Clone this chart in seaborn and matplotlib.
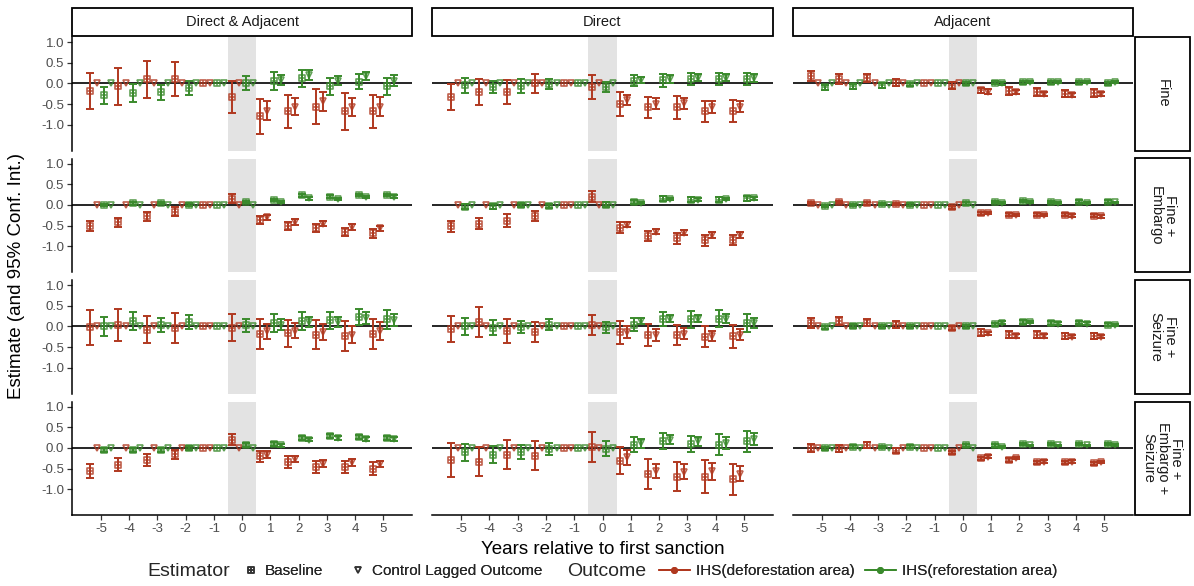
import numpy as np
import pandas as pd
import matplotlib
matplotlib.use("Agg")
import matplotlib.pyplot as plt
import seaborn as sns
from matplotlib.path import Path
from matplotlib.patches import Rectangle
from matplotlib.lines import Line2D

# ---------------- data ----------------
years = [-5, -4, -3, -2, -1, 0, 1, 2, 3, 4, 5]
samples = ["Direct & Adjacent", "Direct", "Adjacent"]
treatments = ["Fine", "Fine +\nEmbargo", "Fine +\nSeizure", "Fine +\nEmbargo +\nSeizure"]
estimators = ["Baseline", "Control Lagged Outcome"]
outcomes = ["IHS(deforestation area)", "IHS(reforestation area)"]
y_ticks = [-1.0, -0.5, 0.0, 0.5, 1.0]
Z6 = [0, 0, 0, 0, 0, 0]

# each panel: estimate and 95% CI half-width for
# def_base / def_lag / ref_base / ref_lag (years -5..5)
da_fine = dict(
    def_base=[-0.19, -0.07, 0.10, 0.11, 0, -0.33, -0.80, -0.68, -0.56, -0.68, -0.68],
    def_base_ci=[0.44, 0.45, 0.45, 0.41, 0, 0.38, 0.43, 0.40, 0.42, 0.44, 0.39],
    def_lag=Z6 + [-0.66, -0.56, -0.43, -0.58, -0.56],
    def_lag_ci=Z6 + [0.23, 0.20, 0.23, 0.22, 0.22],
    ref_base=[-0.29, -0.23, -0.21, -0.11, 0, 0.02, 0.06, 0.12, -0.07, 0.04, -0.07],
    ref_base_ci=[0.21, 0.22, 0.18, 0.17, 0, 0.17, 0.21, 0.21, 0.20, 0.18, 0.21],
    ref_lag=Z6 + [0.08, 0.20, 0.06, 0.18, 0.07],
    ref_lag_ci=Z6 + [0.12, 0.12, 0.11, 0.09, 0.14],
)
d_fine = dict(
    def_base=[-0.33, -0.21, -0.21, 0.00, 0, -0.08, -0.49, -0.58, -0.58, -0.68, -0.66],
    def_base_ci=[0.31, 0.32, 0.29, 0.23, 0, 0.29, 0.29, 0.26, 0.27, 0.26, 0.27],
    def_lag=Z6 + [-0.41, -0.49, -0.48, -0.57, -0.56],
    def_lag_ci=Z6 + [0.12, 0.13, 0.13, 0.14, 0.13],
    ref_base=[-0.04, -0.08, -0.07, -0.02, 0, -0.08, 0.07, 0.08, 0.11, 0.11, 0.10],
    ref_base_ci=[0.18, 0.14, 0.17, 0.12, 0, 0.12, 0.14, 0.16, 0.14, 0.15, 0.15],
    ref_lag=Z6 + [0.08, 0.11, 0.14, 0.14, 0.14],
    ref_lag_ci=Z6 + [0.07, 0.10, 0.08, 0.08, 0.10],
)
a_fine = dict(
    def_base=[0.18, 0.11, 0.14, 0.02, 0, -0.05, -0.17, -0.19, -0.21, -0.25, -0.23],
    def_base_ci=[0.11, 0.12, 0.10, 0.08, 0, 0.09, 0.07, 0.10, 0.09, 0.09, 0.10],
    def_lag=Z6 + [-0.20, -0.21, -0.25, -0.27, -0.25],
    def_lag_ci=Z6 + [0.06, 0.05, 0.05, 0.05, 0.05],
    ref_base=[-0.09, -0.07, -0.05, -0.02, 0, 0.00, 0.02, 0.03, 0.03, 0.03, 0.00],
    ref_base_ci=[0.06, 0.06, 0.05, 0.04, 0, 0.04, 0.04, 0.04, 0.04, 0.04, 0.04],
    ref_lag=Z6 + [0.00, 0.03, 0.03, 0.03, 0.03],
    ref_lag_ci=Z6 + [0.03, 0.03, 0.03, 0.03, 0.03],
)
da_fe = dict(
    def_base=[-0.52, -0.42, -0.28, -0.16, 0, 0.15, -0.37, -0.51, -0.56, -0.65, -0.69],
    def_base_ci=[0.12, 0.11, 0.12, 0.10, 0, 0.11, 0.09, 0.10, 0.10, 0.10, 0.10],
    def_lag=Z6 + [-0.30, -0.41, -0.45, -0.53, -0.57],
    def_lag_ci=Z6 + [0.06, 0.07, 0.07, 0.07, 0.06],
    ref_base=[0.00, 0.04, 0.05, 0.01, 0, 0.07, 0.12, 0.23, 0.20, 0.24, 0.24],
    ref_base_ci=[0.03, 0.03, 0.03, 0.03, 0, 0.03, 0.03, 0.03, 0.03, 0.03, 0.03],
    ref_lag=Z6 + [0.07, 0.16, 0.15, 0.19, 0.20],
    ref_lag_ci=Z6 + [0.03, 0.03, 0.03, 0.03, 0.03],
)
d_fe = dict(
    def_base=[-0.52, -0.45, -0.38, -0.26, 0, 0.20, -0.55, -0.75, -0.81, -0.86, -0.85],
    def_base_ci=[0.13, 0.14, 0.15, 0.12, 0, 0.13, 0.13, 0.13, 0.13, 0.13, 0.13],
    def_lag=Z6 + [-0.48, -0.65, -0.67, -0.73, -0.73],
    def_lag_ci=Z6 + [0.06, 0.06, 0.06, 0.07, 0.07],
    ref_base=[-0.04, -0.03, 0.00, -0.02, 0, 0.01, 0.07, 0.15, 0.13, 0.13, 0.16],
    ref_base_ci=[0.07, 0.06, 0.05, 0.05, 0, 0.05, 0.05, 0.06, 0.06, 0.06, 0.06],
    ref_lag=Z6 + [0.05, 0.15, 0.13, 0.14, 0.16],
    ref_lag_ci=Z6 + [0.03, 0.03, 0.03, 0.03, 0.03],
)
a_fe = dict(
    def_base=[0.05, 0.07, 0.04, 0.02, 0, -0.06, -0.20, -0.24, -0.24, -0.24, -0.26],
    def_base_ci=[0.03, 0.03, 0.03, 0.03, 0, 0.04, 0.04, 0.04, 0.04, 0.04, 0.04],
    def_lag=Z6 + [-0.20, -0.24, -0.24, -0.26, -0.28],
    def_lag_ci=Z6 + [0.03, 0.03, 0.03, 0.03, 0.03],
    ref_base=[-0.03, 0.00, 0.02, 0.01, 0, 0.04, 0.07, 0.09, 0.07, 0.08, 0.08],
    ref_base_ci=[0.03, 0.03, 0.03, 0.03, 0, 0.03, 0.03, 0.03, 0.03, 0.03, 0.03],
    ref_lag=Z6 + [0.04, 0.07, 0.05, 0.05, 0.06],
    ref_lag_ci=Z6 + [0.02, 0.02, 0.02, 0.02, 0.02],
)
da_fs = dict(
    def_base=[-0.02, 0.03, -0.08, -0.03, 0, -0.03, -0.18, -0.17, -0.20, -0.24, -0.18],
    def_base_ci=[0.43, 0.39, 0.33, 0.36, 0, 0.32, 0.36, 0.32, 0.35, 0.36, 0.37],
    def_lag=Z6 + [-0.12, -0.10, -0.14, -0.20, -0.12],
    def_lag_ci=Z6 + [0.19, 0.19, 0.20, 0.20, 0.22],
    ref_base=[0.00, 0.13, 0.04, 0.11, 0, 0.03, 0.08, 0.13, 0.15, 0.23, 0.17],
    ref_base_ci=[0.22, 0.22, 0.17, 0.17, 0, 0.16, 0.22, 0.21, 0.21, 0.20, 0.24],
    ref_lag=Z6 + [0.04, 0.11, 0.11, 0.21, 0.15],
    ref_lag_ci=Z6 + [0.13, 0.13, 0.13, 0.14, 0.15],
)
d_fs = dict(
    def_base=[-0.06, 0.11, -0.10, -0.13, 0, 0.03, -0.14, -0.21, -0.21, -0.25, -0.24],
    def_base_ci=[0.32, 0.37, 0.29, 0.24, 0, 0.24, 0.28, 0.27, 0.25, 0.25, 0.28],
    def_lag=Z6 + [-0.14, -0.21, -0.18, -0.23, -0.20],
    def_lag_ci=Z6 + [0.14, 0.14, 0.13, 0.13, 0.13],
    ref_base=[0.00, -0.03, -0.02, 0.04, 0, -0.02, 0.04, 0.17, 0.17, 0.19, 0.09],
    ref_base_ci=[0.20, 0.18, 0.15, 0.13, 0, 0.13, 0.16, 0.17, 0.20, 0.20, 0.22],
    ref_lag=Z6 + [0.13, 0.19, 0.19, 0.19, 0.08],
    ref_lag_ci=Z6 + [0.08, 0.09, 0.09, 0.11, 0.12],
)
a_fs = dict(
    def_base=[0.08, 0.13, 0.09, 0.04, 0, -0.04, -0.14, -0.20, -0.20, -0.23, -0.23],
    def_base_ci=[0.12, 0.10, 0.09, 0.08, 0, 0.05, 0.08, 0.09, 0.08, 0.08, 0.08],
    def_lag=Z6 + [-0.17, -0.23, -0.23, -0.25, -0.25],
    def_lag_ci=Z6 + [0.04, 0.04, 0.04, 0.04, 0.04],
    ref_base=[-0.02, 0.01, 0.00, 0.00, 0, 0.00, 0.05, 0.11, 0.08, 0.09, 0.04],
    ref_base_ci=[0.04, 0.04, 0.04, 0.04, 0, 0.04, 0.04, 0.04, 0.04, 0.04, 0.04],
    ref_lag=Z6 + [0.09, 0.11, 0.07, 0.07, 0.03],
    ref_lag_ci=Z6 + [0.03, 0.03, 0.03, 0.03, 0.03],
)
da_fes = dict(
    def_base=[-0.56, -0.41, -0.29, -0.15, 0, 0.20, -0.20, -0.34, -0.46, -0.46, -0.50],
    def_base_ci=[0.17, 0.16, 0.15, 0.11, 0, 0.13, 0.13, 0.14, 0.15, 0.15, 0.15],
    def_lag=Z6 + [-0.16, -0.27, -0.38, -0.35, -0.39],
    def_lag_ci=Z6 + [0.08, 0.08, 0.08, 0.09, 0.08],
    ref_base=[-0.05, -0.04, -0.05, 0.00, 0, 0.08, 0.10, 0.25, 0.28, 0.26, 0.24],
    ref_base_ci=[0.05, 0.05, 0.05, 0.05, 0, 0.05, 0.05, 0.05, 0.05, 0.05, 0.05],
    ref_lag=Z6 + [0.06, 0.20, 0.24, 0.22, 0.22],
    ref_lag_ci=Z6 + [0.04, 0.04, 0.04, 0.04, 0.04],
)
d_fes = dict(
    def_base=[-0.30, -0.33, -0.16, -0.19, 0, 0.02, -0.31, -0.64, -0.70, -0.70, -0.76],
    def_base_ci=[0.41, 0.35, 0.36, 0.35, 0, 0.36, 0.33, 0.36, 0.35, 0.40, 0.38],
    def_lag=Z6 + [-0.23, -0.55, -0.58, -0.57, -0.62],
    def_lag_ci=Z6 + [0.18, 0.17, 0.18, 0.20, 0.19],
    ref_base=[-0.11, -0.16, -0.11, -0.02, 0, -0.02, 0.08, 0.16, 0.10, 0.08, 0.16],
    ref_base_ci=[0.21, 0.20, 0.17, 0.15, 0, 0.18, 0.19, 0.19, 0.20, 0.26, 0.26],
    ref_lag=Z6 + [0.11, 0.20, 0.16, 0.12, 0.22],
    ref_lag_ci=Z6 + [0.10, 0.11, 0.11, 0.14, 0.14],
)
a_fes = dict(
    def_base=[0.00, -0.02, 0.07, -0.07, 0, -0.11, -0.25, -0.29, -0.35, -0.35, -0.37],
    def_base_ci=[0.09, 0.08, 0.08, 0.06, 0, 0.04, 0.04, 0.04, 0.04, 0.04, 0.04],
    def_lag=Z6 + [-0.21, -0.25, -0.33, -0.33, -0.34],
    def_lag_ci=Z6 + [0.03, 0.03, 0.03, 0.03, 0.03],
    ref_base=[-0.01, 0.03, 0.02, 0.03, 0, 0.06, 0.06, 0.10, 0.10, 0.10, 0.10],
    ref_base_ci=[0.03, 0.03, 0.03, 0.03, 0, 0.03, 0.03, 0.03, 0.03, 0.03, 0.03],
    ref_lag=Z6 + [0.02, 0.06, 0.06, 0.06, 0.07],
    ref_lag_ci=Z6 + [0.02, 0.02, 0.02, 0.02, 0.02],
)

panels = {
    (treatments[0], samples[0]): da_fine, (treatments[0], samples[1]): d_fine, (treatments[0], samples[2]): a_fine,
    (treatments[1], samples[0]): da_fe, (treatments[1], samples[1]): d_fe, (treatments[1], samples[2]): a_fe,
    (treatments[2], samples[0]): da_fs, (treatments[2], samples[1]): d_fs, (treatments[2], samples[2]): a_fs,
    (treatments[3], samples[0]): da_fes, (treatments[3], samples[1]): d_fes, (treatments[3], samples[2]): a_fes,
}
series_keys = {
    (outcomes[0], estimators[0]): "def_base",
    (outcomes[0], estimators[1]): "def_lag",
    (outcomes[1], estimators[0]): "ref_base",
    (outcomes[1], estimators[1]): "ref_lag",
}

rows = []
for (tr, sa), p in panels.items():
    for (oc, es), key in series_keys.items():
        for yr, e, c in zip(years, p[key], p[key + "_ci"]):
            rows.append(dict(treatment=tr, sample=sa, outcome=oc, estimator=es,
                             year=yr, est=e, ci=c))
df = pd.DataFrame(rows)

# ---------------- style ----------------
RED = "#B0381F"
GREEN = "#3A8A2C"
pal = {outcomes[0]: RED, outcomes[1]: GREEN}
dodge = {(outcomes[0], estimators[0]): -0.375, (outcomes[0], estimators[1]): -0.125,
         (outcomes[1], estimators[0]): 0.125, (outcomes[1], estimators[1]): 0.375}

sq_plus = Path([(-1, -1), (1, -1), (1, 1), (-1, 1), (-1, -1), (0, -1), (0, 1), (-1, 0), (1, 0)],
               [Path.MOVETO, Path.LINETO, Path.LINETO, Path.LINETO, Path.CLOSEPOLY,
                Path.MOVETO, Path.LINETO, Path.MOVETO, Path.LINETO])
mk = {estimators[0]: sq_plus, estimators[1]: "v"}
mk_size = {estimators[0]: 4.6, estimators[1]: 4.6}

sns.set_theme(style="white")
plt.rcParams["font.family"] = ["Liberation Sans", "DejaVu Sans"]
plt.rcParams["axes.unicode_minus"] = False

W, H = 1194, 586


def draw(data, color=None, **kw):
    ax = plt.gca()
    ax.axvspan(-0.5, 0.5, color="#E3E3E3", lw=0, zorder=0)
    ax.axhline(0, color="black", lw=1.2, zorder=1)
    for (oc, es), sub in data.groupby(["outcome", "estimator"], sort=False):
        c = pal[oc]
        x = sub["year"].to_numpy() + dodge[(oc, es)]
        y = sub["est"].to_numpy()
        ci = sub["ci"].to_numpy()
        m = ci > 0
        if m.any():
            ax.errorbar(x[m], y[m], yerr=ci[m], fmt="none", ecolor=c,
                        elinewidth=1.4, capsize=2.6, capthick=1.4, zorder=2)
        ax.plot(x, y, ls="none", marker=mk[es], ms=mk_size[es], mfc="none",
                mec=c, mew=1.2, alpha=0.8, zorder=3)


g = sns.FacetGrid(df, row="treatment", col="sample", row_order=treatments,
                  col_order=samples, sharex=True, sharey=True, despine=False,
                  height=1.2, aspect=3)
g.map_dataframe(draw)
g.set_axis_labels("", "")
fig = g.figure
fig.set_size_inches(W / 100, H / 100)
fig.set_dpi(100)

left, right = 72 / W, 1133 / W
top, bottom = 1 - 37 / H, 1 - 515 / H
fig.subplots_adjust(left=left, right=right, top=top, bottom=bottom,
                    wspace=20 / 340.3, hspace=8 / 113.5)

nrow, ncol = g.axes.shape
for i in range(nrow):
    for j in range(ncol):
        ax = g.axes[i, j]
        ax.set_title("")
        ax.set_xlim(-6.02, 6.02)
        ax.set_ylim(-1.625, 1.125)
        ax.set_xticks(years)
        ax.set_yticks(y_ticks)
        ax.set_xticklabels([str(v) for v in years])
        ax.set_yticklabels([f"{v:.1f}" for v in y_ticks])
        ax.set_facecolor("white")
        for s in ["top", "right"]:
            ax.spines[s].set_visible(False)
        ax.spines["left"].set_visible(j == 0)
        ax.spines["bottom"].set_visible(i == nrow - 1)
        for s in ["left", "bottom"]:
            ax.spines[s].set_color("black")
            ax.spines[s].set_linewidth(1.1)
        ax.tick_params(axis="both", labelsize=9.5, labelcolor="#4D4D4D",
                       color="#333333", length=3.5, width=0.9, pad=2)
        ax.tick_params(axis="y", left=(j == 0), labelleft=(j == 0))
        ax.tick_params(axis="x", bottom=(i == nrow - 1), labelbottom=(i == nrow - 1))
        ax.grid(False)
        ax.set_xlabel("")
        ax.set_ylabel("")

# strips
for j, name in enumerate(samples):
    pos = g.axes[0, j].get_position()
    y0 = pos.y1 + 1 / H
    h = 28 / H
    fig.patches.append(Rectangle((pos.x0, y0), pos.width, h, transform=fig.transFigure,
                                 facecolor="white", edgecolor="black", lw=1.3, zorder=5))
    fig.text(pos.x0 + pos.width / 2, y0 + h / 2, name, ha="center", va="center",
             fontsize=10.5, color="#1A1A1A", zorder=6)
for i, name in enumerate(treatments):
    pos = g.axes[i, ncol - 1].get_position()
    x0 = pos.x1 + 2 / W
    w = 55 / W
    fig.patches.append(Rectangle((x0, pos.y0), w, pos.height, transform=fig.transFigure,
                                 facecolor="white", edgecolor="black", lw=1.3, zorder=5))
    fig.text(x0 + w / 2, pos.y0 + pos.height / 2, name, ha="center", va="center",
             rotation=-90, fontsize=10.5, color="#1A1A1A", linespacing=1.0, zorder=6,
             multialignment="center")

fig.text((left + right) / 2, 1 - 549 / H, "Years relative to first sanction",
         ha="center", va="center", fontsize=13.5, color="black")
fig.text(17 / W, (top + bottom) / 2, "Estimate (and 95% Conf. Int.)",
         ha="center", va="center", rotation=90, fontsize=13.5, color="black")

# legend
ly = 1 - 571 / H
fig.text(147 / W, ly, "Estimator", ha="left", va="center", fontsize=14)
fig.text(567 / W, ly, "Outcome", ha="left", va="center", fontsize=14)

def one_legend(handle, label, x_px, hl, pad):
    lg = fig.legend([handle], [label], loc="center left", bbox_to_anchor=(x_px / W, ly),
                    frameon=False, fontsize=11, handlelength=hl, handletextpad=pad,
                    borderaxespad=0, borderpad=0)
    fig.add_artist(lg)
    return lg

for e, xp in zip(estimators, [243, 350]):
    h = Line2D([], [], ls="none", marker=mk[e], ms=mk_size[e], mfc="none",
               mec="#333333", mew=1.1)
    one_legend(h, e, xp, 1.0, 0.45)
for o, xp in zip(outcomes, [659, 865]):
    h = Line2D([], [], color=pal[o], lw=1.4, marker="o", ms=4)
    one_legend(h, o, xp, 2.0, 0.45)

fig.savefig("out.png", dpi=100, facecolor="white")
